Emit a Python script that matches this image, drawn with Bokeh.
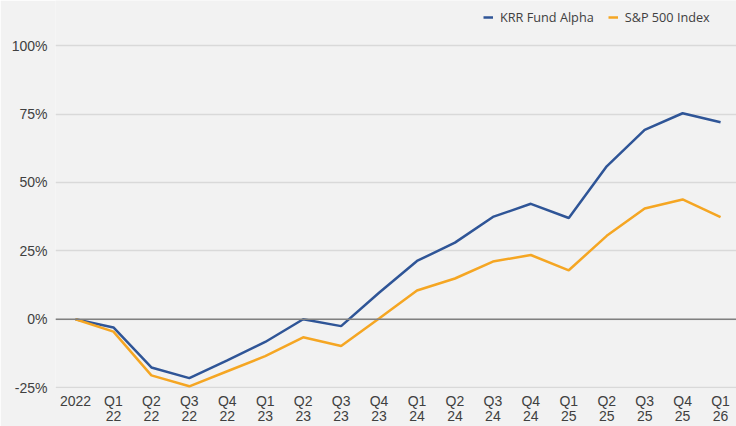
from bokeh.plotting import figure
from bokeh.models import Range1d, FixedTicker, Span, Legend, LegendItem
from bokeh.embed import file_html
from bokeh.resources import INLINE

quarters = ["2022", "Q1\n22", "Q2\n22", "Q3\n22", "Q4\n22", "Q1\n23", "Q2\n23", "Q3\n23",
            "Q4\n23", "Q1\n24", "Q2\n24", "Q3\n24", "Q4\n24", "Q1\n25", "Q2\n25", "Q3\n25",
            "Q4\n25", "Q1\n26"]
krr_fund = [0, -3, -17.6, -21.5, -15, -8.3, 0, -2.5, 9.7, 21.3, 28, 37.4, 42.2, 37, 55.9, 69.2, 75.3, 72]
sp500 = [0, -4.5, -20.5, -24.5, -19, -13.5, -6.6, -9.8, 0.3, 10.5, 14.9, 21.1, 23.5, 17.9, 30.5, 40.5, 43.8, 37.3]
y_ticks = [-25, 0, 25, 50, 75, 100]

xs = list(range(len(quarters)))

BG = "#f2f2f2"
BLUE = "#2f5597"
ORANGE = "#f5a623"

p = figure(width=736, height=426, output_backend="svg", toolbar_location=None,
           x_range=Range1d(-0.527, 17.42), y_range=Range1d(-25.3, 116.5),
           min_border_left=55, min_border_right=0, min_border_top=0, min_border_bottom=0)
p.background_fill_color = BG
p.border_fill_color = BG
p.outline_line_color = None

p.xgrid.grid_line_color = None
p.ygrid.grid_line_color = "#d9d9d9"
p.ygrid.grid_line_width = 1.5

p.yaxis.ticker = FixedTicker(ticks=y_ticks)
p.yaxis.major_label_overrides = {t: f"{t}%" for t in y_ticks}
p.xaxis.ticker = FixedTicker(ticks=xs)
p.xaxis.major_label_overrides = {i: q for i, q in enumerate(quarters)}

for ax in (p.xaxis[0], p.yaxis[0]):
    ax.axis_line_color = None
    ax.major_tick_line_color = None
    ax.minor_tick_line_color = None
    ax.major_tick_out = 0
    ax.major_tick_in = 0
    ax.major_label_text_font = "Liberation Sans"
    ax.major_label_text_font_size = "14px"
    ax.major_label_text_color = "#404040"
p.yaxis.major_label_standoff = 8
p.xaxis.major_label_standoff = 4
p.xaxis.major_label_text_line_height = 0.95

p.add_layout(Span(location=0, dimension="width", line_color="#808080", line_width=1.5))

r1 = p.line(xs, krr_fund, line_color=BLUE, line_width=2.5)
r2 = p.line(xs, sp500, line_color=ORANGE, line_width=2.5)

legend = Legend(items=[LegendItem(label="KRR Fund Alpha", renderers=[r1]),
                       LegendItem(label="S&P 500 Index", renderers=[r2])],
                orientation="horizontal", location=(428, 362),
                background_fill_alpha=0, border_line_color=None,
                label_text_font="Open Sans", label_text_font_size="12.7px",
                label_text_color="#404040", glyph_width=10, glyph_height=12,
                spacing=14, label_standoff=7, padding=0, margin=0)
p.add_layout(legend, "center")

open("out.html", "w").write(file_html(p, INLINE))
